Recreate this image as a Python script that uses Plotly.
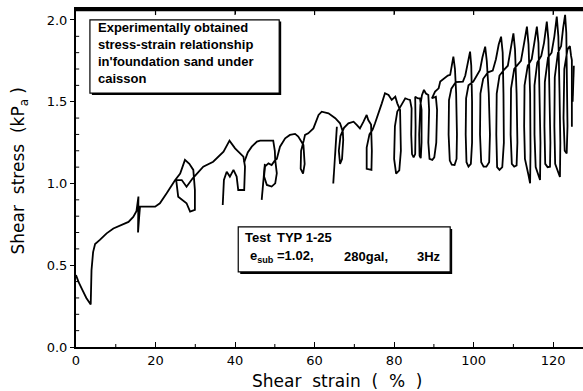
import plotly.graph_objects as go

# ---- data (shear strain %, shear stress kPa) ----
initial_part = [(0.0,0.44),(0.6,0.40),(1.6,0.35),(2.6,0.30),(3.7,0.26),(3.8,0.36),(3.9,0.47),(4.3,0.58),
                (4.8,0.63),(6.0,0.655),(7.7,0.695),(9.4,0.725),(11.1,0.745),(13.2,0.765),(14.4,0.795),
                (15.2,0.83),(15.7,0.92),(15.6,0.70),(15.9,0.80),(16.1,0.858),(19.9,0.858),(21.1,0.879),
                (22.8,0.94),(24.9,1.02),(26.2,1.06),(27.4,1.144),(28.5,1.12),(29.5,1.083),(29.9,0.96),
                (29.9,0.838),(28.7,0.828),(27.8,0.879),(25.7,0.919),(25.2,1.021),(26.6,1.021),(27.8,0.98),
                (29.3,1.03),(30.8,1.072),(32.0,1.103),(34.5,1.133),(37.1,1.195),(38.6,1.262),(40.0,1.215),
                (42.1,1.164),(42.5,1.103),(42.3,0.96),(40.8,0.96),(40.4,1.042),(39.6,1.083),(38.7,1.042),
                (37.9,1.072),(37.2,1.021),(36.9,0.868)]

rise_40_60 = [(42.3,1.13),(43.2,1.19),(44.2,1.225),(45.5,1.256),(46.3,1.262),(49.6,1.262),(50.0,1.2),
              (50.1,1.144),(50.5,1.062),(50.1,1.001),(49.2,0.981),(48.0,0.991),(47.3,1.042),(47.5,1.103),
              (48.4,1.123),(49.2,1.113),(50.1,1.144),(50.5,1.15),(51.3,1.225),(52.6,1.276),(53.8,1.297),
              (55.1,1.303),(55.9,1.287),(56.8,1.256),(57.2,1.235),(57.5,1.12),(57.1,1.06),(56.5,1.09),
              (56.6,1.2),(57.3,1.265),(57.6,1.297),(58.4,1.307),(59.7,1.337)]

rise_60_80 = [(61.0,1.419),(61.8,1.439),(63.5,1.429),(65.2,1.399),(66.4,1.368),(67.1,1.317),(67.2,1.266),
              (66.9,1.15),(66.4,1.12),(66.1,1.2),(66.5,1.29),(67.4,1.34),(68.5,1.368),(69.8,1.378),
              (70.6,1.358),(71.4,1.337),(72.3,1.378),(73.1,1.419),(73.5,1.388),(74.2,1.36),(74.4,1.2),
              (74.3,1.083),(73.1,1.09),(73.1,1.22),(73.8,1.30),(74.6,1.33),(75.2,1.368),(76.1,1.429),
              (76.9,1.49),(77.7,1.552),(78.6,1.541),(79.4,1.511)]

band_80_95 = [(80.3,1.531),(80.8,1.49),(81.5,1.45),(81.7,1.2),(81.3,1.08),(80.5,1.06),(80.0,1.15),
              (80.2,1.35),(80.8,1.44),(81.6,1.47),(82.3,1.501),(82.8,1.521),(83.4,1.515),(84.0,1.511),
              (84.4,1.46),(84.3,1.30),(84.5,1.18),(84.9,1.16),(85.3,1.18),(85.4,1.35),(85.3,1.531),
              (86.0,1.52),(86.5,1.521),(86.9,1.45),(86.9,1.25),(86.7,1.155),(86.4,1.17),(86.3,1.3),
              (86.6,1.48),(87.0,1.54),(87.5,1.572),(88.0,1.55),(88.6,1.541),(88.8,1.45),(88.6,1.25),
              (88.9,1.15),(89.6,1.144),(90.1,1.16),(90.6,1.25),(90.8,1.45),(90.5,1.53),(89.5,1.521),
              (90.3,1.562),(91.2,1.582),(91.6,1.623),(92.5,1.64),(93.5,1.66),(94.1,1.664),(94.5,1.72),
              (94.9,1.776)]

cycles_95_110 = [(95.3,1.70),(95.6,1.55),(95.8,1.30),(95.7,1.15),(95.2,1.113),(94.5,1.115),(94.0,1.14),
                 (93.7,1.30),(93.8,1.51),(94.4,1.58),(95.5,1.62),(96.5,1.62),(97.3,1.623),(97.9,1.66),
                 (98.5,1.74),(99.1,1.806),
                 (99.4,1.72),(99.6,1.50),(99.6,1.25),(99.3,1.12),(98.7,1.103),(98.2,1.13),(98.0,1.30),
                 (98.1,1.52),(98.7,1.60),(99.9,1.623),(100.8,1.66),(101.6,1.694),(102.2,1.77),(102.9,1.837),
                 (103.3,1.75),(103.8,1.55),(104.1,1.30),(103.9,1.13),(103.2,1.103),(102.5,1.103),(101.9,1.13),
                 (101.6,1.30),(101.7,1.55),(102.4,1.64),(103.6,1.68),(104.8,1.69),(105.6,1.76),(106.3,1.85),
                 (106.9,1.898),
                 (107.3,1.80),(107.5,1.55),(107.6,1.25),(107.2,1.10),(106.5,1.083),(105.9,1.10),(105.7,1.30),
                 (105.8,1.55),(106.5,1.66),(107.8,1.70),(108.6,1.72),(109.3,1.82),(110.0,1.918)]

cycles_110_125 = [(110.4,1.82),(110.8,1.55),(111.0,1.25),(110.8,1.11),(110.2,1.103),(109.6,1.12),(109.3,1.30),
                  (109.4,1.58),(110.2,1.70),(111.3,1.73),(111.9,1.75),(112.7,1.86),(113.4,1.959),
                  (113.8,1.85),(114.2,1.55),(114.3,1.20),(114.2,1.001),(113.8,1.05),(113.3,1.10),(112.9,1.15),
                  (112.7,1.35),(112.8,1.60),(113.6,1.72),(114.6,1.76),(115.2,1.85),(115.9,1.959),
                  (116.3,1.86),(116.6,1.55),(116.8,1.25),(116.7,1.021),(116.2,1.06),(115.6,1.10),(115.3,1.30),
                  (115.3,1.60),(116.0,1.74),(117.0,1.78),(117.7,1.86),(118.4,1.99),
                  (118.8,1.88),(119.1,1.55),(119.3,1.25),(119.2,1.103),(118.6,1.10),(118.0,1.12),(117.8,1.35),
                  (117.9,1.62),(118.7,1.77),(119.6,1.80),(120.3,1.90),(120.9,2.021),
                  (121.3,1.90),(121.6,1.55),(121.8,1.25),(121.7,1.04),(121.1,1.08),(120.5,1.12),(120.3,1.35),
                  (120.4,1.65),(121.2,1.80),(122.0,1.84),(122.5,1.95),(123.0,2.031),
                  (123.3,1.92),(123.5,1.60),(123.6,1.35),(123.4,1.184),(122.9,1.20),(122.6,1.40),(122.8,1.70),
                  (123.6,1.82),(124.2,1.84),(124.5,1.78),(124.7,1.755),(124.7,1.347)]

spike_a = [(46.7,0.90),(47.5,1.12)]
spike_b = [(65.6,1.347),(64.7,1.0)]
spike_c = [(124.9,1.50),(125.2,1.72)]

x_ticks = [0, 20, 40, 60, 80, 100, 120]
x_minor_ticks = [10, 30, 50, 70, 90, 110]
y_ticks = [0.0, 0.5, 1.0, 1.5, 2.0]
y_minor_ticks = [0.1, 0.2, 0.3, 0.4, 0.6, 0.7, 0.8, 0.9, 1.1, 1.2, 1.3, 1.4, 1.6, 1.7, 1.8, 1.9]
x_range = [0, 127.5]
y_range = [0, 2.067]

note_top = ["Experimentally obtained", "stress-strain relationship", "in'foundation sand under", "caisson"]
note_test_line1 = ["Test", "TYP 1-25"]
note_test_line2 = ["e<sub>sub</sub> =1.02,", "280gal,", "3Hz"]

# ---- assemble polyline (None breaks between separate strokes) ----
main_path = [initial_part, rise_40_60 + rise_60_80 + band_80_95 + cycles_95_110 + cycles_110_125,
             spike_a, spike_b, spike_c]
xs, ys = [], []
for seg in main_path:
    for px, py in seg:
        xs.append(px)
        ys.append(py)
    xs.append(None)
    ys.append(None)

fig = go.Figure()
fig.add_trace(go.Scatter(x=xs, y=ys, mode="lines", line=dict(color="black", width=1.8),
                         connectgaps=False, hoverinfo="skip", showlegend=False))

tickfont = dict(family="DejaVu Sans", size=13, color="black")
fig.update_layout(
    xaxis=dict(range=x_range, showline=True, linecolor="black", linewidth=2, mirror="ticks",
               tickvals=x_ticks, ticktext=[str(v) for v in x_ticks], ticks="inside", ticklen=5,
               tickwidth=1.3, tickcolor="black", tickfont=tickfont, showgrid=False, zeroline=False),
    yaxis=dict(range=y_range, showline=True, linecolor="black", linewidth=2, mirror=False,
               tickvals=y_ticks, ticktext=[f"{v:.1f}" for v in y_ticks],
               ticks="outside", ticklen=4, tickwidth=1.3,
               tickcolor="black", tickfont=tickfont, showgrid=False, zeroline=False),
)

shapes = []
# top frame as a thin filled bar (filled rects render reliably here)
shapes.append(dict(type="rect", xref="x", yref="y", x0=x_range[0], x1=x_range[1], y0=2.054, y1=2.067,
                   fillcolor="black", line=dict(width=0)))
# small inward ticks along the top frame
for tv in x_ticks[1:]:
    shapes.append(dict(type="rect", xref="x", yref="y", x0=tv - 0.15, x1=tv + 0.15, y0=2.03, y1=2.06,
                       fillcolor="black", line=dict(width=0)))
# minor inward ticks on the bottom axis and left axis
for tv in x_minor_ticks:
    shapes.append(dict(type="rect", xref="x", yref="y", x0=tv - 0.13, x1=tv + 0.13, y0=0, y1=0.018,
                       fillcolor="black", line=dict(width=0)))
for tv in y_minor_ticks:
    shapes.append(dict(type="rect", xref="x", yref="y", x0=0, x1=0.8, y0=tv - 0.003, y1=tv + 0.003,
                       fillcolor="black", line=dict(width=0)))
# annotation boxes with drop shadow
shapes += [
    dict(type="rect", xref="x", yref="y", x0=4.0, x1=51.6, y0=1.541, y1=1.99,
         fillcolor="black", line=dict(width=0)),
    dict(type="rect", xref="x", yref="y", x0=3.5, x1=51.1, y0=1.553, y1=2.0,
         fillcolor="white", line=dict(color="black", width=1.2)),
    dict(type="rect", xref="x", yref="y", x0=41.3, x1=94.6, y0=0.447, y1=0.722,
         fillcolor="black", line=dict(width=0)),
    dict(type="rect", xref="x", yref="y", x0=40.8, x1=94.1, y0=0.459, y1=0.734,
         fillcolor="white", line=dict(color="black", width=1.2)),
]

notefont = dict(family="Liberation Sans", size=13, color="black", weight="bold")
annotations = []
for i, line in enumerate(note_top):
    annotations.append(dict(x=5.0, y=1.955 - i * 0.104, xref="x", yref="y", text=line, showarrow=False,
                            xanchor="left", yanchor="middle", font=notefont))
for xpos, piece in zip([42.0, 50.0], note_test_line1):
    annotations.append(dict(x=xpos, y=0.667, xref="x", yref="y", text=piece, showarrow=False,
                            xanchor="left", yanchor="middle", font=notefont))
for xpos, piece in zip([43.3, 66.9, 85.3], note_test_line2):
    annotations.append(dict(x=xpos, y=0.552, xref="x", yref="y", text=piece, showarrow=False,
                            xanchor="left", yanchor="middle", font=notefont))
annotations.append(dict(x=0.515, y=-0.101, xref="paper", yref="paper", text="Shear  strain  (  %  )",
                        showarrow=False, xanchor="center", yanchor="middle",
                        font=dict(family="DejaVu Sans", size=17, color="black")))
annotations.append(dict(x=-0.112, y=0.52, xref="paper", yref="paper",
                        text="Shear  stress  (kP<sub>a</sub> )",
                        textangle=-90, showarrow=False, xanchor="center", yanchor="middle",
                        font=dict(family="DejaVu Sans", size=17, color="black")))

fig.update_layout(width=583, height=391, autosize=False,
                  margin=dict(l=76, r=0, t=9, b=44, pad=0),
                  plot_bgcolor="white", paper_bgcolor="white",
                  shapes=shapes, annotations=annotations)

fig.write_html("out.html")
